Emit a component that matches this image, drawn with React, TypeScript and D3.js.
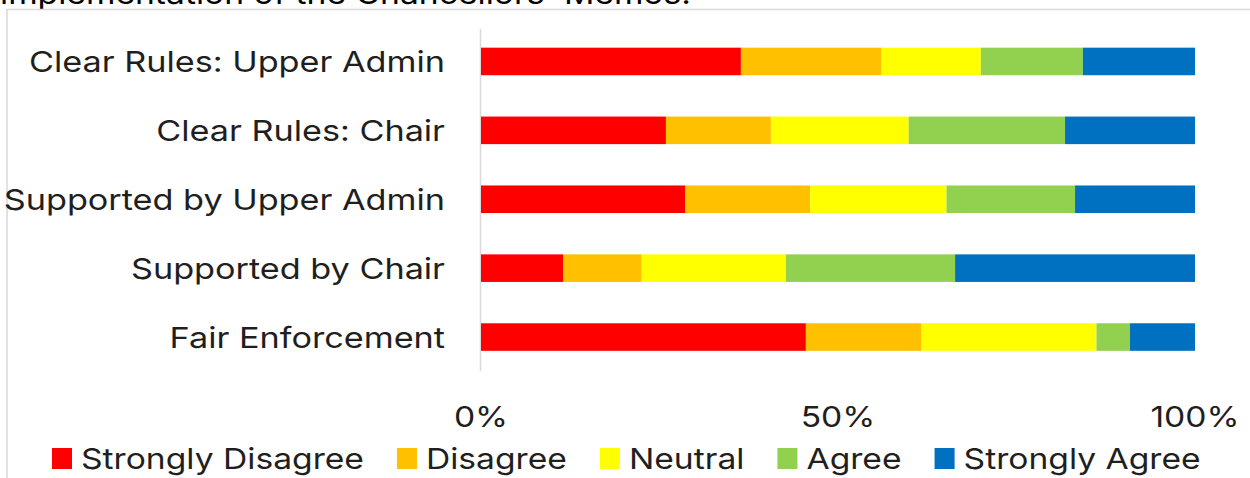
import React, { useEffect, useRef } from "react";
import * as d3 from "d3";

// Survey items, top to bottom
const categories = [
  "Clear Rules: Upper Admin",
  "Clear Rules: Chair",
  "Supported by Upper Admin",
  "Supported by Chair",
  "Fair Enforcement",
];

// Response levels and their colours
const responseLevels = ["Strongly Disagree", "Disagree", "Neutral", "Agree", "Strongly Agree"];
const levelColors = ["#FF0000", "#FFC000", "#FFFF00", "#92D050", "#0070C0"];

// Share of responses (%) per item, in the order of responseLevels
const stronglyDisagree = [36.4, 25.9, 28.6, 11.5, 45.5];
const disagree = [19.7, 14.7, 17.5, 11.0, 16.2];
const neutral = [13.9, 19.3, 19.1, 20.2, 24.5];
const agree = [14.3, 21.9, 18.0, 23.7, 4.7];
const stronglyAgree = [15.7, 18.2, 16.8, 33.6, 9.1];

const tickValues = [0, 0.5, 1];
const captionText = "implementation of the Chancellors' Memos.";

const W = 1250;
const H = 478;
const FONT = "Inter, 'Open Sans', 'Liberation Sans', sans-serif";
const FONT_SIZE = 29;
const SX = 1.16; // horizontal text stretch
const LABEL_SX = 1.18;
const TEXT_COLOR = "#1f1f1f";

export default function App() {
  const ref = useRef<SVGSVGElement | null>(null);

  useEffect(() => {
    const svg = d3.select(ref.current);
    svg.selectAll("*").remove();

    const series = [stronglyDisagree, disagree, neutral, agree, stronglyAgree];
    const rows = categories.map((c, i) => {
      const row: Record<string, any> = { category: c };
      responseLevels.forEach((lvl, j) => (row[lvl] = series[j][i]));
      return row;
    });
    const stacked = d3.stack().keys(responseLevels).offset(d3.stackOffsetExpand)(rows as any);

    const x = d3.scaleLinear().domain([0, 1]).range([481, 1195]);
    const y = d3
      .scaleBand<string>()
      .domain(categories)
      .range([27, 371.5])
      .paddingInner(0.6)
      .paddingOuter(0.3);

    // caption line above the chart frame, clipped by the page edge
    svg
      .append("text")
      .attr("transform", `translate(0,4) scale(${SX},1)`)
      .attr("font-family", FONT)
      .attr("font-size", FONT_SIZE)
      .attr("fill", "#000")
      .text(captionText);

    // chart frame
    svg
      .append("rect")
      .attr("x", 7)
      .attr("y", 9.5)
      .attr("width", W + 20)
      .attr("height", H + 20)
      .attr("fill", "#fff")
      .attr("stroke", "#d9d9d9")
      .attr("stroke-width", 1.5);

    // category axis line
    svg
      .append("line")
      .attr("x1", x(0) - 0.5)
      .attr("x2", x(0) - 0.5)
      .attr("y1", 29)
      .attr("y2", 371)
      .attr("stroke", "#d9d9d9")
      .attr("stroke-width", 1.5);

    // stacked bars
    svg
      .append("g")
      .selectAll("g")
      .data(stacked)
      .join("g")
      .attr("fill", (_d, i) => levelColors[i])
      .selectAll("rect")
      .data((d) => d)
      .join("rect")
      .attr("x", (d) => x(d[0]))
      .attr("width", (d) => x(d[1]) - x(d[0]))
      .attr("y", (d: any) => y(d.data.category) as number)
      .attr("height", y.bandwidth());

    // category labels
    svg
      .append("g")
      .selectAll("text")
      .data(categories)
      .join("text")
      .attr(
        "transform",
        (c) => `translate(445,${(y(c) as number) + y.bandwidth() / 2 + 10.5}) scale(${LABEL_SX},1)`
      )
      .attr("text-anchor", "end")
      .attr("font-family", FONT)
      .attr("font-size", FONT_SIZE)
      .attr("fill", TEXT_COLOR)
      .text((c) => c);

    // value axis tick labels
    svg
      .append("g")
      .selectAll("text")
      .data(tickValues)
      .join("text")
      .attr("transform", (v) => `translate(${x(v)},427) scale(${SX},1)`)
      .attr("text-anchor", "middle")
      .attr("font-family", FONT)
      .attr("font-size", FONT_SIZE)
      .attr("fill", TEXT_COLOR)
      .text((v) => d3.format(".0%")(v));

    // legend
    const legend = svg.append("g");
    let cx = 52;
    responseLevels.forEach((lvl, i) => {
      legend
        .append("rect")
        .attr("x", cx)
        .attr("y", 448)
        .attr("width", 20)
        .attr("height", 21)
        .attr("fill", levelColors[i]);
      const t = legend
        .append("text")
        .attr("transform", `translate(${cx + 29},469) scale(${SX},1)`)
        .attr("font-family", FONT)
        .attr("font-size", FONT_SIZE)
        .attr("fill", TEXT_COLOR)
        .text(lvl);
      const tw = (t.node() as SVGTextElement).getComputedTextLength() * SX;
      cx += 29 + tw + 33;
    });
  }, []);

  return (
    <svg
      ref={ref}
      width={W}
      height={H}
      style={{ position: "absolute", left: 0, top: 0, background: "#fff" }}
    />
  );
}
